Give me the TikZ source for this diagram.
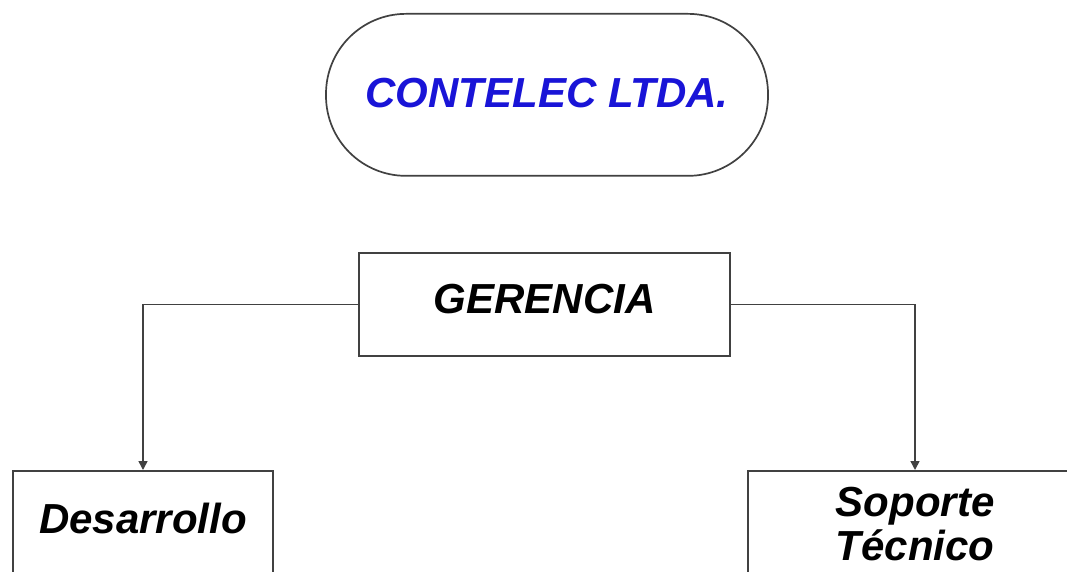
\documentclass[tikz,border=0pt]{standalone}
\usepackage{fontspec}
\setmainfont{Liberation Sans}
\usetikzlibrary{arrows.meta}
\definecolor{linegray}{RGB}{65,65,65}
\definecolor{titleblue}{RGB}{25,20,215}
\tikzset{
  boxstyle/.style={draw=linegray, line width=1.7pt, fill=white, inner xsep=0pt, inner ysep=0pt,
    font=\fontsize{42}{44}\selectfont\bfseries\itshape, text=black},
  conn/.style={draw=linegray, line width=1.5pt, -{Triangle[width=9pt,length=9pt]}}
}
\begin{document}
\begin{tikzpicture}[x=1pt,y=-1pt]
\useasboundingbox (0,0) rectangle (1067,572);
\fill[white] (0,0) rectangle (1067,572);
\clip (0,0) rectangle (1067,572);
\node[boxstyle, rounded corners=80pt, anchor=north, minimum width=442pt,
      text height=94pt, text depth=68pt, text=titleblue] (top) at (547,13) {CONTELEC LTDA.};
\node[boxstyle, anchor=north, minimum width=371pt, text height=61pt, text depth=42pt] (ger) at (544.5,252) {GERENCIA};
\node[boxstyle, anchor=north, minimum width=260pt, text height=63pt, text depth=70pt] (des) at (143,470) {Desarrollo};
\node[boxstyle, anchor=north, minimum width=334pt, text height=65pt, text depth=80pt] (sop) at (915,470)
  {\begin{tabular}{@{}c@{}}Soporte\\Técnico\end{tabular}};
\draw[conn] (ger.west) -| (des.north);
\draw[conn] (ger.east) -| (sop.north);
\end{tikzpicture}
\end{document}
